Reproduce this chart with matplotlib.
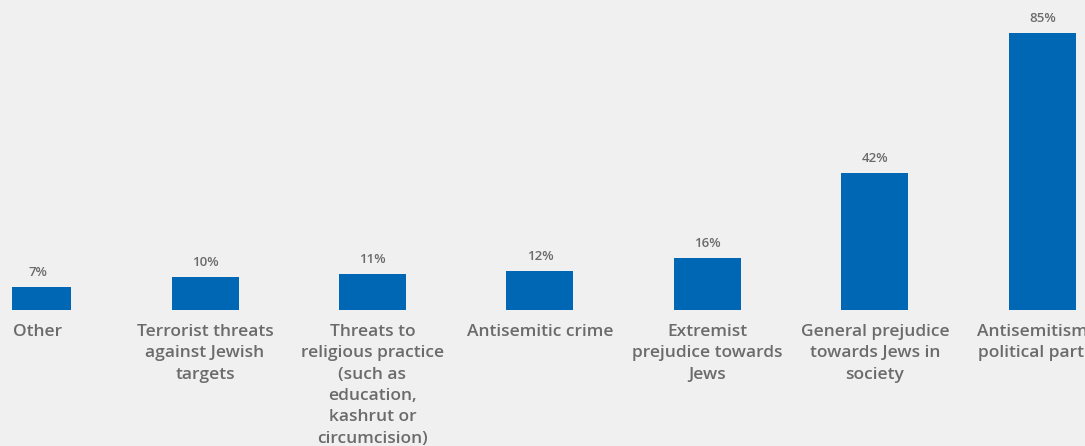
import matplotlib.pyplot as plt
import numpy as np
from matplotlib.transforms import Bbox, TransformedBbox

# survey answers, percent
labels = ["Other",
          "Terrorist threats\nagainst Jewish\ntargets",
          "Threats to\nreligious practice\n(such as\neducation,\nkashrut or\ncircumcision)",
          "Antisemitic crime",
          "Extremist\nprejudice towards\nJews",
          "General prejudice\ntowards Jews in\nsociety",
          "Antisemitism in\npolitical parties"]
values = [7, 10, 11, 12, 16, 42, 85]

bg = "#f0f0f0"
blue = "#0067b4"
grey = "#6b6b6b"

fig = plt.figure(figsize=(10.85, 4.46), dpi=100, facecolor=bg)
# axes sits on the bar baseline, chart is cropped at left and right
left = 12 / 1085
ax = fig.add_axes([left, 136 / 446, 1 - left, 310 / 446], facecolor=bg)

x = np.arange(len(values))
ax.bar(x, values, width=0.4, color=blue)

for xi, v in zip(x, values):
    ax.annotate(f"{v}%", (xi, v), xytext=(0, 6), textcoords="offset points",
                ha="center", va="bottom", color=grey, fontsize=9.5,
                family="Open Sans", fontweight="semibold")

ax.set_xlim(-0.224 + 12 / 167.5, 6.254)
ax.set_ylim(0, 95.1)
ax.set_xticks(x)
ax.set_xticklabels(labels, color=grey, fontsize=12.5, family="Open Sans",
                   fontweight="semibold", linespacing=1.45)
ax.tick_params(axis="x", length=0, pad=10)
ax.set_yticks([])
for s in ax.spines.values():
    s.set_visible(False)

# cut the labels at the same left edge as the bars
clip = TransformedBbox(Bbox([[left, 0], [1, 1]]), fig.transFigure)
for t in ax.get_xticklabels():
    t.set_clip_box(clip)
    t.set_clip_on(True)

fig.savefig("out.png", dpi=100, facecolor=bg)
